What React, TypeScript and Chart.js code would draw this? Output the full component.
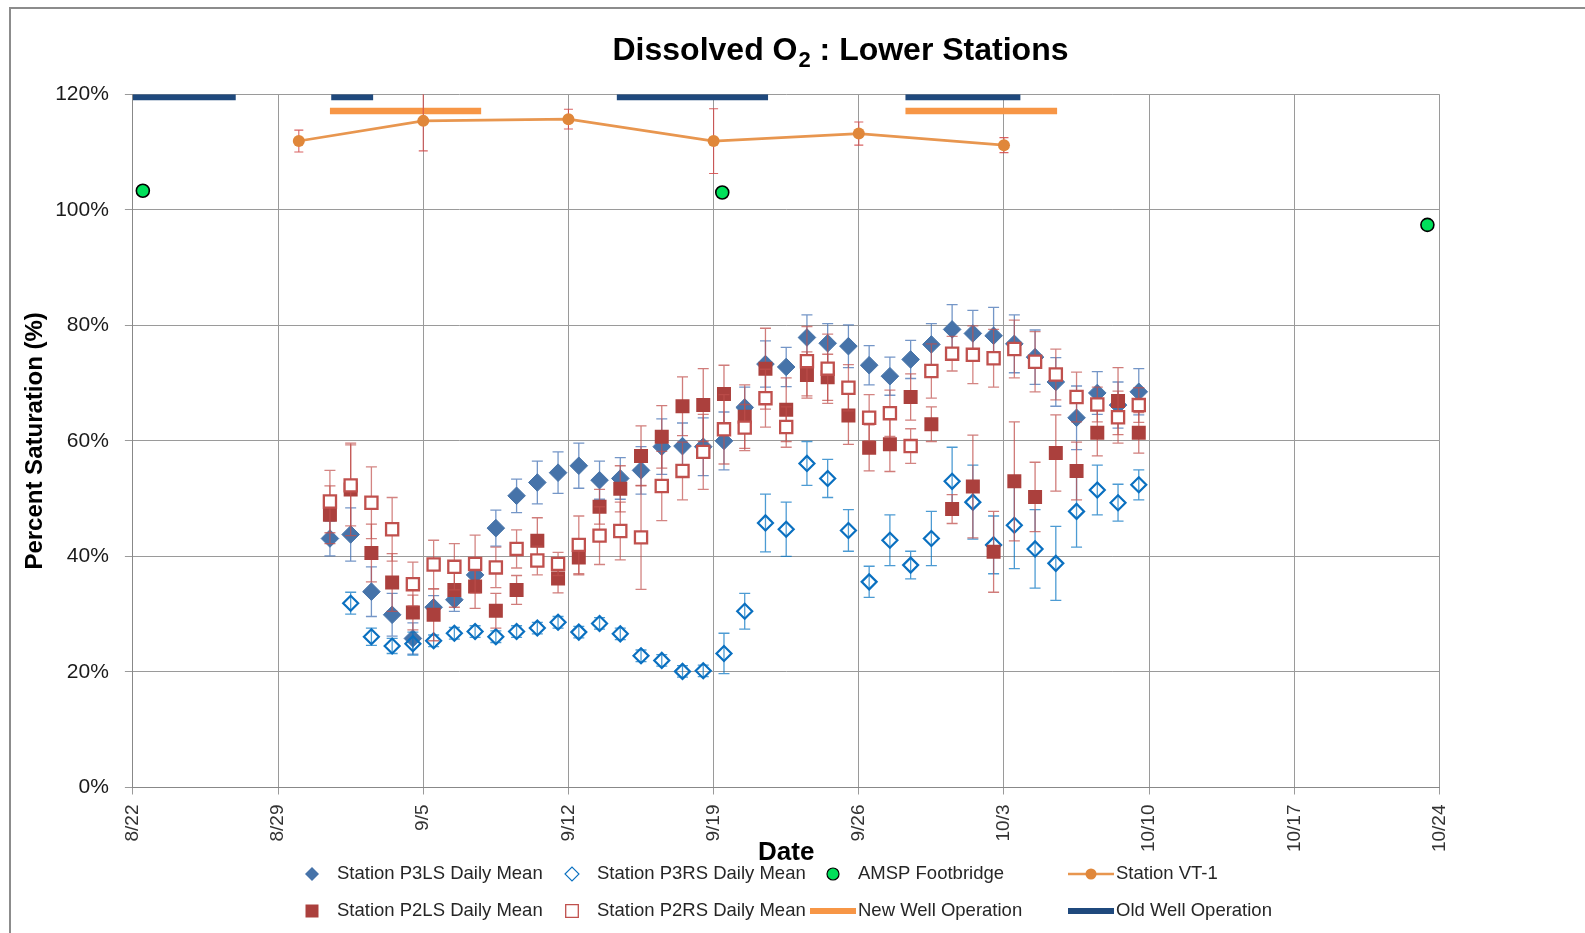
import React, { useEffect, useRef } from "react";
import { Chart, registerables } from "chart.js";

Chart.register(...registerables);

// ---------------- data ----------------
const X_TICK_LABELS = ["8/22", "8/29", "9/5", "9/12", "9/19", "9/26", "10/3", "10/10", "10/17", "10/24"];
const Y_TICKS = [0, 20, 40, 60, 80, 100, 120];

const MEAN_DATES = ["8/31", "9/1", "9/2", "9/3", "9/4", "9/5", "9/6", "9/7", "9/8", "9/9",
  "9/10", "9/11", "9/12", "9/13", "9/14", "9/15", "9/16", "9/17", "9/18", "9/19",
  "9/20", "9/21", "9/22", "9/23", "9/24", "9/25", "9/26", "9/27", "9/28", "9/29",
  "9/30", "10/1", "10/2", "10/3", "10/4", "10/5", "10/6", "10/7", "10/8", "10/9"];

const P3LS_MEAN = [43.1, 43.8, 33.9, 29.9, 25.8, 31.2, 32.5, 36.8, 44.9, 50.5,
  52.8, 54.5, 55.7, 53.2, 53.5, 54.9, 59.0, 59.1, 59.0, 60.0,
  65.8, 73.3, 72.8, 77.9, 76.9, 76.4, 73.1, 71.2, 74.1, 76.7,
  79.3, 78.6, 78.2, 76.8, 74.5, 70.2, 64.0, 68.3, 66.2, 68.5];
const P3LS_ERR = [3, 4.6, 4.3, 3.7, 2.7, 2, 2, 1.8, 3.1, 2.9,
  3.7, 3.6, 3.9, 3.3, 3.6, 4.1, 4.8, 4, 5, 5,
  3.5, 4, 3.4, 3.9, 3.4, 3.7, 3.4, 3.3, 3.3, 3.6,
  4.3, 4, 4.9, 5, 4.7, 4.2, 5.5, 3.7, 4, 4];

const P3RS_MEAN = [null, 31.9, 26.1, 24.5, 24.9, 25.4, 26.7, 27.0, 26.1, 27.0,
  27.6, 28.6, 26.9, 28.4, 26.6, 22.8, 22.0, 20.1, 20.2, 23.2,
  30.5, 45.8, 44.7, 56.1, 53.5, 44.5, 35.6, 42.8, 38.5, 43.1,
  53.0, 49.4, 42.0, 45.4, 41.3, 38.8, 47.8, 51.5, 49.3, 52.4];
const P3RS_ERR = [null, 1.9, 1.5, 1.3, 2, 1, 1, 1, 1, 1,
  1, 1, 1, 1, 1, 1, 1, 1, 1, 3.5,
  3.1, 5, 4.7, 3.8, 3.3, 3.6, 2.7, 4.4, 2.4, 4.7,
  5.9, 6.4, 5, 7.5, 6.8, 6.4, 6.2, 4.3, 3.2, 2.6];

const P2LS_MEAN = [47.2, 51.6, 40.6, 35.5, 30.3, 29.9, 34.2, 34.8, 30.6, 34.2,
  42.7, 36.2, 39.8, 48.6, 51.7, 57.4, 60.7, 66.0, 66.2, 68.1,
  64.2, 72.5, 65.4, 71.4, 71.0, 64.4, 58.8, 59.4, 67.6, 62.9,
  48.2, 52.1, 40.8, 53.0, 50.3, 57.9, 54.8, 61.4, 66.9, 61.4];
const P2LS_ERR = [5, 8, 5, 5, 3, 4.5, 3, 3.8, 3, 2.5,
  4, 2.5, 3, 3, 4, 5.2, 5.4, 5.1, 6.3, 5,
  5.5, 7, 5.5, 4, 4, 5, 4, 4.7, 4, 3,
  2.5, 8.9, 7, 10.3, 6, 6.6, 5, 4, 5.8, 3.5];

const P2RS_MEAN = [49.5, 52.3, 49.3, 44.7, 35.2, 38.6, 38.2, 38.7, 38.1, 41.3,
  39.3, 38.7, 42.0, 43.6, 44.4, 43.3, 52.2, 54.8, 58.1, 62.0,
  62.3, 67.4, 62.4, 73.8, 72.5, 69.2, 64.0, 64.8, 59.1, 72.1,
  75.1, 74.9, 74.3, 75.9, 73.7, 71.5, 67.6, 66.3, 64.1, 66.2];
const P2RS_ERR = [5.4, 7, 6.2, 5.5, 3.8, 4.2, 4, 5, 3.5, 3.3,
  2.5, 2, 5, 5, 5, 9, 6, 5, 6.5, 6,
  4, 5, 3.5, 6, 6, 4, 4, 4, 3, 4.7,
  3, 5, 5, 5, 5.2, 4.4, 4.3, 3, 4.5, 3];

const AMSP_DATES = ["8/22 11:30", "9/19 10:00", "10/23 10:00"];
const AMSP_VALUES = [103.3, 103.0, 97.4];

const VT1_DATES = ["8/30", "9/5", "9/12", "9/19", "9/26", "10/3"];
const VT1_VALUES = [111.9, 115.4, 115.7, 111.9, 113.2, 111.2];
const VT1_ERR = [1.9, 5.2, 1.7, 5.6, 2.0, 1.3];

const NEW_WELL_PERIODS = [["8/31 12:00", "9/7 19:00"], ["9/28 06:00", "10/5 13:30"]];
const NEW_WELL_LEVEL = 117.1;
const OLD_WELL_PERIODS = [["8/22 00:00", "8/26 23:00"], ["8/31 13:30", "9/2 14:00"], ["9/14 08:00", "9/21 15:00"], ["9/28 06:00", "10/3 19:00"]];
const OLD_WELL_LEVEL = 119.5;

// ---------------- helpers ----------------
const DAYS_BEFORE_MONTH: Record<number, number> = { 8: 212, 9: 243, 10: 273 };
function toDay(s: string): number {
  const [md, hm] = s.split(" ");
  const [m, d] = md.split("/").map(Number);
  let v = DAYS_BEFORE_MONTH[m] + d;
  if (hm) {
    const [h, mi] = hm.split(":").map(Number);
    v += (h + mi / 60) / 24;
  }
  return v;
}
const noon = (d: string) => toDay(d + " 12:00");

function periods(list: string[][], level: number) {
  const pts: any[] = [];
  list.forEach(([a, b]) => {
    pts.push({ x: toDay(a), y: level });
    pts.push({ x: toDay(b), y: level });
    pts.push({ x: toDay(b) + 0.01, y: null });
  });
  return pts;
}

const W = 1585;
const H = 933;
const AREA = { left: 132.9, top: 94.3, right: 1439.5, bottom: 787.5 };
const FONT = "'Liberation Sans', Arial, sans-serif";

const LEGEND_TEXT_X = [337, 597, 858, 1116];
const LEGEND_ROW_Y = [874, 911];

// ---------------- plugins ----------------
const frameTitlePlugin = {
  id: "frameTitle",
  beforeDraw(chart: any) {
    const ctx = chart.ctx;
    ctx.save();
    ctx.strokeStyle = "#8c8c8c";
    ctx.lineWidth = 2;
    ctx.beginPath();
    ctx.moveTo(10, H);
    ctx.lineTo(10, 8);
    ctx.lineTo(W, 8);
    ctx.stroke();
    ctx.restore();
  },
  afterDraw(chart: any) {
    const ctx = chart.ctx;
    ctx.save();
    ctx.fillStyle = "#000";
    ctx.textBaseline = "alphabetic";
    const big = `bold 32px ${FONT}`;
    const small = `bold 22px ${FONT}`;
    const p1 = "Dissolved O", p2 = "2", p3 = " : Lower Stations";
    ctx.font = big;
    const w1 = ctx.measureText(p1).width;
    const w3 = ctx.measureText(p3).width;
    ctx.font = small;
    const w2 = ctx.measureText(p2).width;
    let x = 840 - (w1 + w2 + w3) / 2;
    ctx.font = big;
    ctx.fillText(p1, x, 59.5);
    x += w1;
    ctx.font = small;
    ctx.fillText(p2, x + 1, 66.5);
    x += w2 + 1;
    ctx.font = big;
    ctx.fillText(p3, x, 59.5);

    // axis titles
    ctx.font = `bold 26px ${FONT}`;
    ctx.textAlign = "center";
    ctx.fillText("Date", (AREA.left + AREA.right) / 2, 860);
    ctx.save();
    ctx.translate(41.5, (AREA.top + AREA.bottom) / 2);
    ctx.rotate(-Math.PI / 2);
    ctx.font = `bold 24px ${FONT}`;
    ctx.fillText("Percent Saturation (%)", 0, 0);
    ctx.restore();
    ctx.restore();
  },
};

const errorBarPlugin = {
  id: "errorBars",
  beforeDatasetDraw(chart: any, args: any) {
    const ds = chart.data.datasets[args.index];
    if (!ds.errors) return;
    const ctx = chart.ctx;
    const xs = chart.scales.x, ys = chart.scales.y;
    const a = chart.chartArea;
    ctx.save();
    ctx.beginPath();
    ctx.rect(a.left, a.top, a.right - a.left, a.bottom - a.top);
    ctx.clip();
    ctx.strokeStyle = ds.errorColor;
    ctx.lineWidth = ds.errorWidth || 1.3;
    const cap = ds.errorCap || 5.5;
    ds.data.forEach((p: any, i: number) => {
      const e = ds.errors[i];
      if (p.y == null || e == null) return;
      const x = xs.getPixelForValue(p.x);
      const y1 = ys.getPixelForValue(p.y + e);
      const y2 = ys.getPixelForValue(p.y - e);
      ctx.beginPath();
      ctx.moveTo(x, y1);
      ctx.lineTo(x, y2);
      ctx.moveTo(x - cap, y1);
      ctx.lineTo(x + cap, y1);
      ctx.moveTo(x - cap, y2);
      ctx.lineTo(x + cap, y2);
      ctx.stroke();
    });
    ctx.restore();
  },
};

function drawMarker(ctx: any, kind: string, x: number, y: number, r: number, fill: string, stroke: string, bw: number) {
  ctx.beginPath();
  if (kind === "rectRot") {
    ctx.moveTo(x - r, y);
    ctx.lineTo(x, y - r);
    ctx.lineTo(x + r, y);
    ctx.lineTo(x, y + r);
    ctx.closePath();
  } else if (kind === "rect") {
    ctx.rect(x - r, y - r, 2 * r, 2 * r);
  } else {
    ctx.arc(x, y, r, 0, Math.PI * 2);
  }
  if (fill) {
    ctx.fillStyle = fill;
    ctx.fill();
  }
  if (bw > 0) {
    ctx.lineWidth = bw;
    ctx.strokeStyle = stroke;
    ctx.stroke();
  }
}

const legendPlugin = {
  id: "gridLegend",
  afterDraw(chart: any) {
    const ctx = chart.ctx;
    chart.data.datasets.forEach((ds: any, i: number) => {
      const col = i % 4, row = Math.floor(i / 4);
      const tx = LEGEND_TEXT_X[col];
      const cy = LEGEND_ROW_Y[row];
      ctx.save();
      if (ds.showLine) {
        ctx.strokeStyle = ds.borderColor;
        ctx.lineWidth = ds.legendLineWidth || ds.borderWidth;
        ctx.beginPath();
        ctx.moveTo(tx - 48, cy);
        ctx.lineTo(tx - 2, cy);
        ctx.stroke();
        if (ds.pointRadius > 0) {
          drawMarker(ctx, "circle", tx - 25, cy, 5.5, ds.pointBackgroundColor, ds.pointBackgroundColor, 0);
        }
      } else {
        drawMarker(ctx, ds.legendShape, tx - 25, cy, ds.legendSize, ds.legendFill, ds.borderColor, ds.legendBorder);
      }
      ctx.fillStyle = "#262626";
      ctx.font = `18.5px ${FONT}`;
      ctx.textBaseline = "middle";
      ctx.textAlign = "left";
      ctx.fillText(ds.label, tx, cy);
      ctx.restore();
    });
  },
};

// ---------------- component ----------------
export default function App() {
  const ref = useRef<HTMLCanvasElement | null>(null);

  useEffect(() => {
    if (!ref.current) return;
    const meanPts = (vals: (number | null)[]) => MEAN_DATES.map((d, i) => ({ x: noon(d), y: vals[i] }));

    const datasets: any[] = [
      {
        label: "Station P3LS Daily Mean",
        data: meanPts(P3LS_MEAN),
        errors: P3LS_ERR,
        errorColor: "rgba(70,115,180,0.75)",
        pointStyle: "rectRot",
        pointRadius: 8.8,
        backgroundColor: "#4673a9",
        borderColor: "#4673a9",
        borderWidth: 1,
        showLine: false,
        order: 4,
        legendShape: "rectRot", legendSize: 7, legendFill: "#4673a9", legendBorder: 0,
      },
      {
        label: "Station P3RS Daily Mean",
        data: meanPts(P3RS_MEAN),
        errors: P3RS_ERR,
        errorColor: "rgba(0,112,192,0.7)",
        pointStyle: "rectRot",
        pointRadius: 7.5,
        backgroundColor: "rgba(255,255,255,0)",
        borderColor: "#0a70c0",
        borderWidth: 2.2,
        showLine: false,
        order: 3,
        legendShape: "rectRot", legendSize: 7, legendFill: "#fff", legendBorder: 1.1,
      },
      {
        label: "AMSP Footbridge",
        data: AMSP_DATES.map((d, i) => ({ x: toDay(d), y: AMSP_VALUES[i] })),
        pointStyle: "circle",
        pointRadius: 6.5,
        backgroundColor: "#00e05a",
        borderColor: "#000",
        borderWidth: 1.6,
        showLine: false,
        order: 5,
        legendShape: "circle", legendSize: 6, legendFill: "#00e05a", legendBorder: 1.2,
      },
      {
        label: "Station VT-1",
        data: VT1_DATES.map((d, i) => ({ x: toDay(d), y: VT1_VALUES[i] })),
        errors: VT1_ERR,
        errorColor: "rgba(210,70,70,0.85)",
        errorWidth: 1.1,
        errorCap: 4.5,
        showLine: true,
        borderColor: "#e8964f",
        borderWidth: 2.6,
        pointRadius: 6,
        pointStyle: "circle",
        pointBackgroundColor: "#e0873a",
        pointBorderColor: "#e0873a",
        pointBorderWidth: 0,
        order: 6,
      },
      {
        label: "Station P2LS Daily Mean",
        data: meanPts(P2LS_MEAN),
        errors: P2LS_ERR,
        errorColor: "rgba(192,80,77,0.75)",
        pointStyle: "rect",
        pointRadius: 9.9,
        backgroundColor: "#ab403d",
        borderColor: "#ab403d",
        borderWidth: 0,
        showLine: false,
        order: 2,
        legendShape: "rect", legendSize: 6.5, legendFill: "#ab403d", legendBorder: 0,
      },
      {
        label: "Station P2RS Daily Mean",
        data: meanPts(P2RS_MEAN),
        errors: P2RS_ERR,
        errorColor: "rgba(192,80,77,0.7)",
        pointStyle: "rect",
        pointRadius: 8.6,
        backgroundColor: "#ffffff",
        borderColor: "#c0504d",
        borderWidth: 2.3,
        showLine: false,
        order: 1,
        legendShape: "rect", legendSize: 6.3, legendFill: "#fff", legendBorder: 1.3,
      },
      {
        label: "New Well Operation",
        data: periods(NEW_WELL_PERIODS, NEW_WELL_LEVEL),
        showLine: true,
        spanGaps: false,
        borderColor: "#f79646",
        borderWidth: 6.5,
        legendLineWidth: 6,
        pointRadius: 0,
        order: 7,
      },
      {
        label: "Old Well Operation",
        data: periods(OLD_WELL_PERIODS, OLD_WELL_LEVEL),
        showLine: true,
        spanGaps: false,
        borderColor: "#1f497d",
        borderWidth: 6,
        legendLineWidth: 6,
        pointRadius: 0,
        order: 8,
      },
    ];

    const chart = new Chart(ref.current, {
      type: "scatter",
      data: { datasets },
      options: {
        responsive: false,
        animation: false,
        devicePixelRatio: 1,
        layout: { padding: { left: 0, top: AREA.top, right: W - AREA.right, bottom: 0 } },
        plugins: {
          legend: { display: false },
          title: { display: false },
          tooltip: { enabled: false },
        },
        scales: {
          x: {
            type: "linear",
            min: toDay(X_TICK_LABELS[0]),
            max: toDay(X_TICK_LABELS[X_TICK_LABELS.length - 1]),
            afterBuildTicks: (s: any) => {
              s.ticks = X_TICK_LABELS.map((l) => ({ value: toDay(l) }));
            },
            afterFit: (s: any) => {
              s.height = H - AREA.bottom;
            },
            ticks: {
              autoSkip: false,
              minRotation: 90,
              maxRotation: 90,
              padding: 10,
              color: "#333",
              font: { family: FONT, size: 19 },
              callback: (_v: any, i: number) => X_TICK_LABELS[i],
            },
            grid: { color: "#9a9a9a", lineWidth: 1, tickLength: 7 },
            border: { color: "#888", width: 1 },
          },
          y: {
            type: "linear",
            min: 0,
            max: 120,
            afterBuildTicks: (s: any) => {
              s.ticks = Y_TICKS.map((v) => ({ value: v }));
            },
            afterFit: (s: any) => {
              s.width = AREA.left;
            },
            ticks: {
              padding: 16,
              color: "#1a1a1a",
              font: { family: FONT, size: 21 },
              callback: (v: any) => v + "%",
            },
            grid: { color: "#9a9a9a", lineWidth: 1, tickLength: 8 },
            border: { color: "#888", width: 1 },
          },
        },
      } as any,
      plugins: [frameTitlePlugin, errorBarPlugin, legendPlugin],
    });
    return () => chart.destroy();
  }, []);

  return (
    <div style={{ position: "absolute", left: 0, top: 0, width: W, height: H, background: "#fff" }}>
      <canvas ref={ref} width={W} height={H} style={{ display: "block", width: W, height: H }} />
    </div>
  );
}
